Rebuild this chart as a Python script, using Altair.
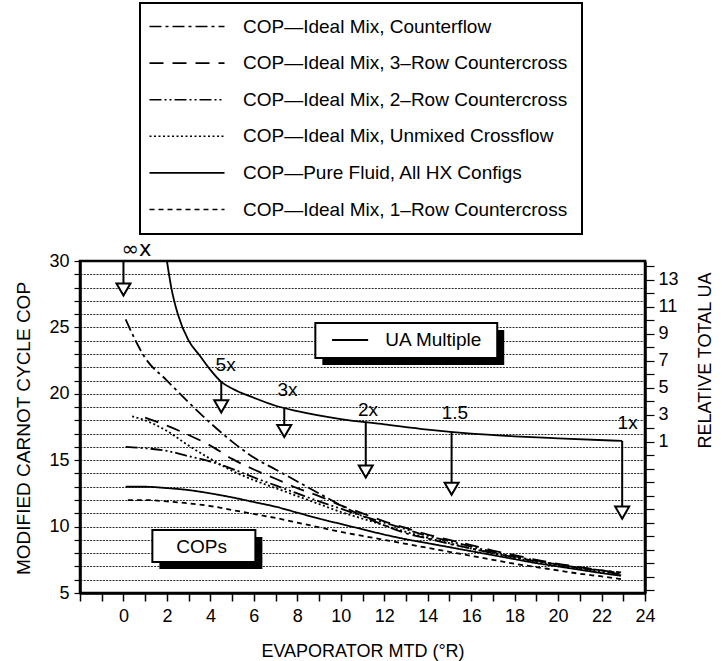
import altair as alt
import pandas as pd

FONT = "Liberation Sans"

# ---------------- data ----------------
series_names = [
    "COP—Ideal Mix, Counterflow",
    "COP—Ideal Mix, 3–Row Countercross",
    "COP—Ideal Mix, 2–Row Countercross",
    "COP—Ideal Mix, Unmixed Crossflow",
    "COP—Pure Fluid, All HX Configs",
    "COP—Ideal Mix, 1–Row Countercross",
]
series_dash = [[12, 4, 3, 4], [14, 9], [12, 3, 2, 3, 2, 3], [2, 2.5], [1, 0], [5, 4]]

cf_x = [0.1, 1, 2, 3, 4, 5, 6, 7, 8, 9, 10, 11, 12, 13, 14, 15, 16, 17, 18, 19, 20, 21, 22, 22.9]
cf_y = [25.6, 22.7, 21.0, 19.35, 17.8, 16.4, 15.2, 14.3, 13.4, 12.5, 11.6, 10.8, 10.1, 9.5, 9.1, 8.7, 8.35, 8.0, 7.7, 7.4, 7.15, 6.9, 6.7, 6.55]

r3_x = [1.0, 2, 3, 4, 5, 6, 7, 8, 9, 10, 11, 12, 13, 14, 15, 16, 17, 18, 19, 20, 21, 22, 22.9]
r3_y = [18.2, 17.6, 16.9, 16.1, 15.1, 14.3, 13.6, 12.9, 12.3, 11.6, 11.0, 10.4, 9.9, 9.4, 9.0, 8.6, 8.2, 7.85, 7.5, 7.2, 6.95, 6.7, 6.5]

r2_x = [0.1, 1, 2, 3, 4, 5, 6, 7, 8, 9, 10, 11, 12, 13, 14, 15, 16, 17, 18, 19, 20, 21, 22, 22.9]
r2_y = [16.0, 15.9, 15.7, 15.3, 14.9, 14.35, 13.7, 13.1, 12.5, 11.9, 11.35, 10.8, 10.3, 9.8, 9.3, 8.9, 8.5, 8.1, 7.75, 7.45, 7.15, 6.9, 6.65, 6.4]

ux_x = [0.4, 1, 2, 3, 4, 5, 6, 7, 8, 9, 10, 11, 12, 13, 14, 15, 16, 17, 18, 19, 20, 21, 22, 22.9]
ux_y = [18.3, 18.0, 17.2, 16.1, 15.1, 14.2, 13.5, 12.9, 12.3, 11.7, 11.1, 10.6, 10.1, 9.6, 9.15, 8.75, 8.35, 8.0, 7.65, 7.35, 7.05, 6.8, 6.55, 6.35]

pf_x = [0.1, 1, 2, 3, 4, 5, 6, 7, 8, 9, 10, 11, 12, 13, 14, 15, 16, 17, 18, 19, 20, 21, 22, 22.9]
pf_y = [13.0, 13.0, 12.9, 12.75, 12.5, 12.2, 11.85, 11.5, 11.05, 10.6, 10.2, 9.8, 9.4, 9.05, 8.75, 8.45, 8.15, 7.85, 7.55, 7.25, 7.0, 6.75, 6.5, 6.3]

r1_x = [0.2, 1, 2, 3, 4, 5, 6, 7, 8, 9, 10, 11, 12, 13, 14, 15, 16, 17, 18, 19, 20, 21, 22, 22.9]
r1_y = [12.0, 12.0, 11.9, 11.75, 11.55, 11.25, 10.95, 10.65, 10.3, 9.95, 9.6, 9.3, 9.0, 8.7, 8.4, 8.1, 7.8, 7.5, 7.2, 6.95, 6.7, 6.45, 6.25, 6.05]

# UA multiple curve
ua_x = [2.0, 2.2, 2.5, 3.0, 3.5, 4.0, 4.5, 5.0, 6.0, 7.0, 8.0, 10.0, 12.0, 14.0, 16.0, 18.0, 20.0, 22.95]
ua_y = [30.0, 28.0, 26.0, 24.0, 22.9, 21.8, 20.9, 20.4, 19.7, 19.1, 18.7, 18.1, 17.7, 17.3, 17.0, 16.8, 16.65, 16.45]

# arrows for UA multiples
arrow_x = [0.0, 4.5, 7.4, 11.15, 15.1, 22.95]
arrow_top = [30.0, 20.9, 18.95, 17.9, 17.1, 16.45]
arrow_tip = [27.4, 18.6, 16.75, 13.7, 12.4, 10.6]
arrow_label = ["∞x", "5x", "3x", "2x", "1.5", "1x"]
label_x = [0.6, 4.7, 7.55, 11.25, 15.25, 23.2]
label_y = [30.8, 22.2, 20.3, 18.8, 18.55, 17.8]

# annotation boxes
box_text = ["UA Multiple", "COPs"]
box_x1 = [8.83, 1.33]
box_x2 = [17.2, 6.07]
box_y1 = [25.33, 9.74]
box_y2 = [22.7, 7.33]
box_tx = [12.05, 3.6]
box_ty = [24.05, 8.5]
box_align = ["left", "center"]
sample_x = [9.6, 11.26]
sample_y = [24.05, 24.05]

# axis ticks
x_ticks = list(range(-2, 25))
y_ticks = [5 + 0.5 * i for i in range(51)]
right_ticks = list(range(-10, 15))

# ---------------- tables ----------------
xs = [cf_x, r3_x, r2_x, ux_x, pf_x, r1_x]
ys = [cf_y, r3_y, r2_y, ux_y, pf_y, r1_y]
rows = []
for name, sx, sy in zip(series_names, xs, ys):
    for i, (a, b) in enumerate(zip(sx, sy)):
        rows.append({"x": a, "y": b, "series": name, "i": i})
cop_df = pd.DataFrame(rows)
ua_df = pd.DataFrame({"x": ua_x, "y": ua_y})
arr_df = pd.DataFrame({"x": arrow_x, "y": arrow_top, "tip": arrow_tip})
head_df = pd.DataFrame({"x": arrow_x, "y": arrow_tip})
lab_df = pd.DataFrame({"x": label_x, "y": label_y, "t": arrow_label})
box_df = pd.DataFrame({"x": box_x1, "x2": box_x2, "y": box_y1, "y2": box_y2})
boxt_df = pd.DataFrame({"x": box_tx, "y": box_ty, "t": box_text, "a": box_align})
samp_df = pd.DataFrame({"x": sample_x, "y": sample_y})
right_df = pd.DataFrame({"r": right_ticks})

xscale = alt.Scale(domain=[-2, 24], nice=False, zero=False)
yscale = alt.Scale(domain=[5, 30], nice=False, zero=False)

x_axis = alt.Axis(
    values=x_ticks, format="d",
    labelExpr="datum.value >= 0 && datum.value % 2 == 0 ? datum.label : ''",
    title="EVAPORATOR MTD (°R)",
    tickSize=8, tickWidth=1.5, domainWidth=2.5, labelPadding=6,
    labelFontSize=18, titleFontSize=18, labelOverlap=False, labelFlush=False,
    grid=False, titleY=58, titleBaseline="middle",
)
y_axis = alt.Axis(
    values=y_ticks, format="d",
    labelExpr="datum.value % 5 == 0 ? datum.label : ''",
    title="MODIFIED CARNOT CYCLE COP",
    tickSize=6, tickWidth=1.2, domainWidth=2.5, labelPadding=5,
    labelFontSize=18, titleFontSize=19, labelOverlap=False, labelFlush=False,
    grid=True, gridDash=[2, 1.2], gridColor="#111111", gridWidth=1, gridOpacity=0.9,
    titleX=-57, titleY=167, titleBaseline="middle", titleAlign="center", titleAngle=270,
)

# every layer uses the same field names and identical axes, so they merge into one
X = alt.X("x:Q", scale=xscale, axis=x_axis, title="EVAPORATOR MTD (°R)")
Y = alt.Y("y:Q", scale=yscale, axis=y_axis, title="MODIFIED CARNOT CYCLE COP")

lines = alt.Chart(cop_df).mark_line(color="black", strokeWidth=1.8, interpolate="monotone").encode(
    x=X, y=Y,
    strokeDash=alt.StrokeDash(
        "series:N",
        scale=alt.Scale(domain=series_names, range=series_dash),
        sort=series_names,
        legend=alt.Legend(
            orient="none", legendX=60, legendY=-258, title=None,
            symbolType="M-7,0H30.5", symbolSize=16, symbolStrokeWidth=1.6,
            symbolStrokeColor="black", labelFontSize=19, labelFont=FONT,
            labelOffset=70, rowPadding=16.6, padding=14, labelLimit=600,
            strokeColor="black", fillColor="white", labelColor="black",
        ),
    ),
    order="i:Q",
)

ua_line = alt.Chart(ua_df).mark_line(color="black", strokeWidth=1.8, interpolate="monotone").encode(
    x=X, y=Y
)

stems = alt.Chart(arr_df).mark_rule(color="black", strokeWidth=2).encode(
    x=X, y=Y, y2="tip:Q"
)
heads = alt.Chart(head_df).mark_point(
    shape="triangle-down", size=196, filled=True, fill="white", stroke="black",
    strokeWidth=2, opacity=1, yOffset=-6,
).encode(x=X, y=Y)

inf_label = alt.Chart(lab_df.iloc[:1]).mark_text(
    fontSize=21, font="DejaVu Sans", align="center", baseline="middle", color="black"
).encode(x=X, y=Y, text="t:N")
arrow_labels = alt.Chart(lab_df.iloc[1:]).mark_text(
    fontSize=19, font=FONT, align="center", baseline="middle", color="black"
).encode(x=X, y=Y, text="t:N")

shadows = alt.Chart(box_df).mark_rect(
    color="black", xOffset=7, x2Offset=7, yOffset=7, y2Offset=7
).encode(x=X, x2="x2:Q", y=Y, y2="y2:Q")
boxes = alt.Chart(box_df).mark_rect(fill="white", stroke="black", strokeWidth=2).encode(
    x=X, x2="x2:Q", y=Y, y2="y2:Q"
)
sample = alt.Chart(samp_df).mark_line(color="black", strokeWidth=1.8).encode(x=X, y=Y)
box_text_l = alt.Chart(boxt_df[boxt_df.a == "left"]).mark_text(
    fontSize=19, font=FONT, align="left", baseline="middle", color="black"
).encode(x=X, y=Y, text="t:N")
box_text_c = alt.Chart(boxt_df[boxt_df.a == "center"]).mark_text(
    fontSize=19, font=FONT, align="center", baseline="middle", color="black"
).encode(x=X, y=Y, text="t:N")

main = alt.layer(
    lines, ua_line, stems, heads, inf_label, arrow_labels, shadows, boxes, sample,
    box_text_l, box_text_c
)

right = alt.Chart(right_df).mark_point(opacity=0).encode(
    y=alt.Y(
        "r:Q",
        scale=alt.Scale(domain=[-10.2, 14.4], nice=False, zero=False),
        axis=alt.Axis(
            orient="right", values=right_ticks, format="d",
            labelExpr="datum.value >= 1 && datum.value % 2 == 1 ? datum.label : ''",
            title="RELATIVE TOTAL UA", titleAngle=270, titleX=60, titleY=99,
            titleBaseline="middle", titleAlign="center",
            tickSize=9, tickWidth=1.2, domainWidth=2.5, labelPadding=4,
            labelFontSize=18, titleFontSize=18, labelOverlap=False, labelFlush=False,
            grid=False,
        ),
    )
)

chart = (
    alt.layer(main, right)
    .resolve_scale(y="independent")
    .properties(
        width=565, height=332,
        autosize=alt.AutoSizeParams(type="none"),
        padding={"left": 80, "top": 261, "right": 77, "bottom": 68},
    )
    .configure(font=FONT)
    .configure_view(stroke="black", strokeWidth=2.5)
    .configure_legend(strokeWidth=2)
    .configure_axis(
        labelColor="black", tickColor="black", domainColor="black",
        titleColor="black", titleFontWeight="normal", labelFont=FONT, titleFont=FONT,
    )
)

chart.save("out.html", embed_options={"renderer": "svg", "actions": False})
